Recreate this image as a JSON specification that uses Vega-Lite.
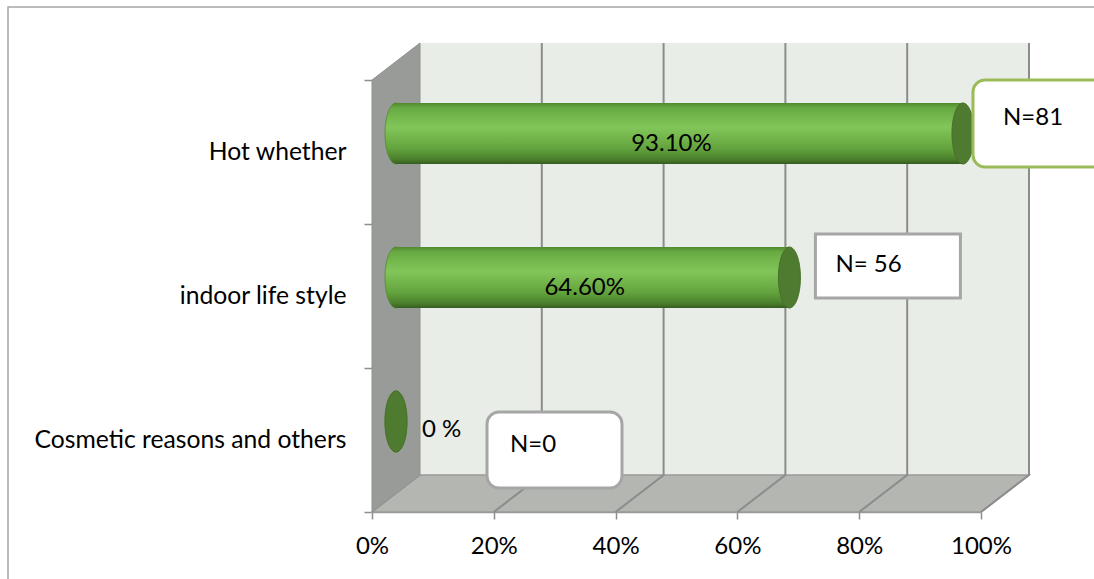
{
  "$schema": "https://vega.github.io/schema/vega-lite/v6.json",
  "autosize": "none",
  "width": 609,
  "height": 432,
  "padding": {"left": 372, "top": 80, "right": 113, "bottom": 67},
  "background": "white",
  "config": {"view": {"stroke": null}, "font": "Lato", "text": {"font": "Lato"}},
  "datasets": {
    "reasons": [
      {"reason": "Hot whether", "pct": 93.1, "label": "93.10%", "n": "N=81"},
      {"reason": "indoor life style", "pct": 64.6, "label": "64.60%", "n": "N= 56"},
      {"reason": "Cosmetic reasons and others", "pct": 0, "label": "0 %", "n": "N=0"}
    ],
    "ticks": [{"v": 20}, {"v": 40}, {"v": 60}, {"v": 80}, {"v": 100}],
    "anchor": [{"a": 1}]
  },
  "encoding": {
    "y": {
      "field": "reason",
      "type": "nominal",
      "scale": {"domain": ["Hot whether", "indoor life style", "Cosmetic reasons and others"], "paddingInner": 0, "paddingOuter": 0},
      "axis": {"title": null, "tickBand": "extent", "domain": false, "tickColor": "#8c8c8c", "tickSize": 8, "tickWidth": 1.5, "labelPadding": 18, "labelFontSize": 24.7, "labelColor": "#000", "labelFont": "Lato", "labelLimit": 500, "grid": false}
    }
  },
  "layer": [
    {
      "data": {"name": "anchor"},
      "mark": {"type": "point", "shape": "M -364 1000 L -364 -145 L 1000 -145", "size": 4, "filled": false, "stroke": "#a6a6a6", "strokeWidth": 1.5, "opacity": 1},
      "encoding": {"x": {"datum": 0, "type": "quantitative"}, "y": {"datum": "Hot whether", "type": "nominal"}}
    },
    {
      "data": {"name": "anchor"},
      "mark": {"type": "point", "shape": "M 48 -109 L 657 -109 L 657 323 L 48 323 Z", "size": 4, "filled": true, "fill": "#e9ede7", "stroke": null, "opacity": 1},
      "encoding": {"x": {"datum": 0, "type": "quantitative"}, "y": {"datum": "Hot whether", "type": "nominal"}}
    },
    {
      "data": {"name": "anchor"},
      "mark": {"type": "point", "shape": "M 0 360 L 609 360 L 657 323 L 48 323 Z", "size": 4, "filled": true, "fill": "#b4b6b2", "stroke": "#9a9a9a", "strokeWidth": 1.5, "opacity": 1},
      "encoding": {"x": {"datum": 0, "type": "quantitative"}, "y": {"datum": "Hot whether", "type": "nominal"}}
    },
    {
      "data": {"name": "anchor"},
      "mark": {"type": "point", "shape": "M 0 360 L 48 323 L 48 -109 L 0 -72 Z", "size": 4, "filled": true, "fill": "#999b98", "stroke": "#8f918e", "strokeWidth": 1, "opacity": 1},
      "encoding": {"x": {"datum": 0, "type": "quantitative"}, "y": {"datum": "Hot whether", "type": "nominal"}}
    },
    {
      "data": {"name": "ticks"},
      "mark": {"type": "point", "shape": "M 0 360 L 48 323 L 48 -109", "size": 4, "filled": false, "stroke": "#8c8c8c", "strokeWidth": 2, "opacity": 1},
      "encoding": {"x": {"field": "v", "type": "quantitative"}, "y": {"datum": "Hot whether", "type": "nominal"}}
    },
    {
      "data": {"name": "reasons"},
      "mark": {"type": "point", "shape": "M 24 -49 A 11 30.5 0 1 1 24 12 A 11 30.5 0 1 1 24 -49 Z", "size": 4, "filled": true, "opacity": 1, "stroke": "#4f8a2f", "strokeWidth": 0.8,
        "fill": {"gradient": "linear", "x1": 0, "y1": 0, "x2": 0, "y2": 1, "stops": [
          {"offset": 0, "color": "#4f8a2f"}, {"offset": 0.08, "color": "#68aa42"}, {"offset": 0.4, "color": "#82c65a"}, {"offset": 0.75, "color": "#63a33d"}, {"offset": 0.92, "color": "#4a7f2c"}, {"offset": 1, "color": "#365e20"}]}},
      "encoding": {"x": {"datum": 0, "type": "quantitative"}}
    },
    {
      "data": {"name": "reasons"},
      "mark": {"type": "bar", "orient": "horizontal", "height": 61, "xOffset": 24, "x2Offset": 24, "yOffset": -18.5, "y2Offset": -18.5, "stroke": null,
        "fill": {"gradient": "linear", "x1": 0, "y1": 0, "x2": 0, "y2": 1, "stops": [
          {"offset": 0, "color": "#4f8a2f"}, {"offset": 0.08, "color": "#68aa42"}, {"offset": 0.4, "color": "#82c65a"}, {"offset": 0.75, "color": "#63a33d"}, {"offset": 0.92, "color": "#4a7f2c"}, {"offset": 1, "color": "#365e20"}]}},
      "encoding": {
        "x": {"field": "pct", "type": "quantitative", "scale": {"domain": [0, 100], "nice": false},
          "axis": {"title": null, "values": [0, 20, 40, 60, 80, 100], "labelExpr": "datum.value + '%'", "labelFlush": false, "labelOverlap": false, "grid": false, "domainColor": "#9a9a9a", "domainWidth": 1.5, "tickColor": "#8c8c8c", "tickSize": 7, "tickWidth": 1.5, "labelPadding": 15, "labelFontSize": 24, "labelColor": "#000", "labelFont": "Lato"}}
      }
    },
    {
      "data": {"name": "reasons"},
      "mark": {"type": "point", "shape": "M 24 -49 A 11 30.5 0 1 1 24 12 A 11 30.5 0 1 1 24 -49 Z", "size": 4, "filled": true, "fill": "#4e7b2f", "stroke": "#47702a", "strokeWidth": 1, "opacity": 1},
      "encoding": {"x": {"field": "pct", "type": "quantitative"}}
    },
    {
      "data": {"name": "reasons"},
      "transform": [{"filter": "datum.pct > 0"}, {"calculate": "datum.pct / 2", "as": "mid"}],
      "mark": {"type": "text", "fontSize": 24, "align": "center", "baseline": "middle", "dx": 16, "dy": -8, "color": "#000"},
      "encoding": {"x": {"field": "mid", "type": "quantitative"}, "text": {"field": "label"}}
    },
    {
      "data": {"name": "reasons"},
      "transform": [{"filter": "datum.pct == 0"}],
      "mark": {"type": "text", "fontSize": 24, "align": "left", "baseline": "middle", "dx": 50, "dy": -10, "color": "#000"},
      "encoding": {"x": {"field": "pct", "type": "quantitative"}, "text": {"field": "label"}}
    },
    {
      "data": {"name": "reasons"},
      "mark": {"type": "point", "size": 4, "filled": false, "fill": "#ffffff", "strokeWidth": 3, "opacity": 1},
      "encoding": {
        "x": {"field": "pct", "type": "quantitative"},
        "shape": {"field": "reason", "type": "nominal", "legend": null, "scale": {"domain": ["Hot whether", "indoor life style", "Cosmetic reasons and others"], "range": [
          "M 46 -72 L 163 -72 A 12 12 0 0 1 175 -60 L 175 3 A 12 12 0 0 1 163 15 L 46 15 A 12 12 0 0 1 34 3 L 34 -60 A 12 12 0 0 1 46 -72 Z",
          "M 50 -62 L 195 -62 L 195 2 L 50 2 Z",
          "M 127 -28 L 238 -28 A 12 12 0 0 1 250 -16 L 250 36 A 12 12 0 0 1 238 48 L 127 48 A 12 12 0 0 1 115 36 L 115 -16 A 12 12 0 0 1 127 -28 Z"]}},
        "stroke": {"field": "reason", "type": "nominal", "legend": null, "scale": {"domain": ["Hot whether", "indoor life style", "Cosmetic reasons and others"], "range": ["#9bbb59", "#a6a6a6", "#a6a6a6"]}}
      }
    },
    {
      "data": {"name": "reasons"},
      "transform": [{"filter": "datum.reason == 'Hot whether'"}],
      "mark": {"type": "text", "fontSize": 24, "align": "left", "baseline": "middle", "dx": 64, "dy": -34, "color": "#000"},
      "encoding": {"x": {"field": "pct", "type": "quantitative"}, "text": {"field": "n"}}
    },
    {
      "data": {"name": "reasons"},
      "transform": [{"filter": "datum.reason == 'indoor life style'"}],
      "mark": {"type": "text", "fontSize": 24, "align": "left", "baseline": "middle", "dx": 70, "dy": -31, "color": "#000"},
      "encoding": {"x": {"field": "pct", "type": "quantitative"}, "text": {"field": "n"}}
    },
    {
      "data": {"name": "reasons"},
      "transform": [{"filter": "datum.reason == 'Cosmetic reasons and others'"}],
      "mark": {"type": "text", "fontSize": 24, "align": "left", "baseline": "middle", "dx": 138, "dy": 5, "color": "#000"},
      "encoding": {"x": {"field": "pct", "type": "quantitative"}, "text": {"field": "n"}}
    }
  ]
}
